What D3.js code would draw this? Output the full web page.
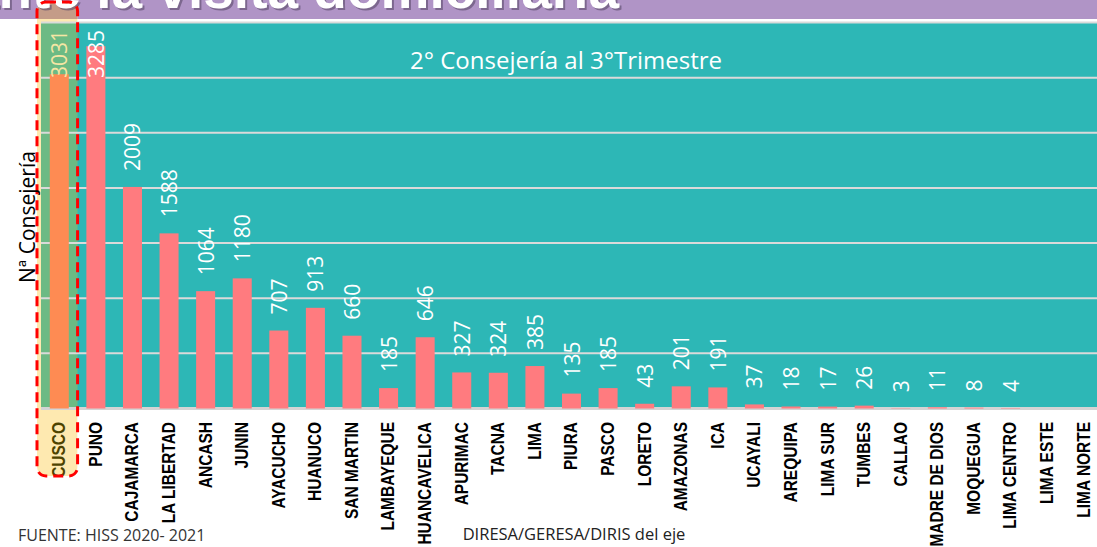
<!DOCTYPE html>
<html>
<head>
<meta charset="utf-8">
<script src="https://cdn.jsdelivr.net/npm/d3@7"></script>
<style>
  body { margin: 0; background: #fff; overflow: hidden; }
  svg { display: block; }
</style>
</head>
<body>
<div id="chart"></div>
<script>
var categories = ["CUSCO", "PUNO", "CAJAMARCA", "LA LIBERTAD", "ANCASH", "JUNIN", "AYACUCHO",
                  "HUANUCO", "SAN MARTIN", "LAMBAYEQUE", "HUANCAVELICA", "APURIMAC", "TACNA",
                  "LIMA", "PIURA", "PASCO", "LORETO", "AMAZONAS", "ICA", "UCAYALI", "AREQUIPA",
                  "LIMA SUR", "TUMBES", "CALLAO", "MADRE DE DIOS", "MOQUEGUA", "LIMA CENTRO",
                  "LIMA ESTE", "LIMA NORTE"];
var values = [3031, 3285, 2009, 1588, 1064, 1180, 707, 913, 660, 185, 646, 327, 324, 385,
              135, 185, 43, 201, 191, 37, 18, 17, 26, 3, 11, 8, 4, null, null];
var yTicks = [0, 500, 1000, 1500, 2000, 2500, 3000, 3500];
var highlighted = "CUSCO";

var headerTitle = "Consejería durante la visita domiciliaria";
var chartTitle = "2° Consejería al 3°Trimestre";
var yTitle = "Nª Consejería";
var xTitle = "DIRESA/GERESA/DIRIS del eje";
var source = "FUENTE: HISS  2020- 2021";

var W = 1097, H = 547;
var plot = {left: 41, right: 1102, top: 22.5, bottom: 408.5};

var svg = d3.select("#chart")
            .append("svg")
            .attr("width", W)
            .attr("height", H);

var x = d3.scaleBand()
          .domain(categories)
          .range([plot.left, plot.right])
          .paddingInner(0.48)
          .paddingOuter(0.24);

var y = d3.scaleLinear()
          .domain([0, 3500])
          .range([plot.bottom, plot.top]);

// purple header band with the slide title
svg.append("rect")
   .attr("x", 0).attr("y", 0)
   .attr("width", W).attr("height", 19)
   .attr("fill", "#b094c6");

// highlight box behind the selected column
var hx0 = x(highlighted) - (x.step() - x.bandwidth()) / 2 - 4,
    hx1 = x(highlighted) + x.bandwidth() + (x.step() - x.bandwidth()) / 2;

svg.append("clipPath")
   .attr("id", "hl-clip")
   .append("rect")
   .attr("x", hx0).attr("y", 2)
   .attr("width", hx1 - hx0).attr("height", 474)
   .attr("rx", 9);

var hl = svg.append("g").attr("clip-path", "url(#hl-clip)");
hl.append("rect")
  .attr("x", hx0).attr("y", 0)
  .attr("width", hx1 - hx0).attr("height", H)
  .attr("fill", "#fee9b0");
hl.append("rect")
  .attr("x", hx0).attr("y", 0)
  .attr("width", hx1 - hx0).attr("height", 19)
  .attr("fill", "#c49c88");

var titleG = svg.append("g")
   .style("font-family", "'Liberation Sans', Arial, sans-serif")
   .style("font-weight", "bold")
   .style("font-size", "55px");
titleG.append("text")
   .attr("x", 621).attr("y", 10)
   .attr("text-anchor", "end")
   .attr("fill", "#5a4a6a")
   .attr("opacity", 0.6)
   .text(headerTitle);
titleG.append("text")
   .attr("x", 619).attr("y", 8)
   .attr("text-anchor", "end")
   .attr("fill", "#ffffff")
   .text(headerTitle);

// plot area
svg.append("rect")
   .attr("x", plot.left).attr("y", plot.top)
   .attr("width", plot.right - plot.left).attr("height", plot.bottom - plot.top)
   .attr("fill", "#2db7b6");

svg.append("rect")
   .attr("x", plot.left).attr("y", plot.top)
   .attr("width", hx1 - plot.left).attr("height", plot.bottom - plot.top)
   .attr("fill", "#6cba84");

// gridlines
svg.append("g")
   .selectAll("line")
   .data(yTicks)
   .enter()
   .append("line")
   .attr("x1", plot.left)
   .attr("x2", plot.right)
   .attr("y1", d => y(d))
   .attr("y2", d => y(d))
   .attr("stroke", d => d === 0 ? "#d4d4d4" : "#dadada")
   .attr("stroke-width", d => d === 0 ? 3 : 2);

// bars
var data = categories.map((c, i) => ({cat: c, value: values[i]}))
                     .filter(d => d.value !== null);

svg.append("g")
   .selectAll("rect")
   .data(data)
   .enter()
   .append("rect")
   .attr("x", d => x(d.cat))
   .attr("y", d => y(d.value))
   .attr("width", x.bandwidth())
   .attr("height", d => y(0) - y(d.value))
   .attr("fill", d => d.cat === highlighted ? "#fe8b53" : "#ff7b7f");

// value labels, kept inside the plot top like Excel does
var labels = svg.append("g")
   .style("font-family", "'Open Sans', sans-serif")
   .style("font-size", "21px")
   .selectAll("text")
   .data(data)
   .enter()
   .append("text")
   .attr("dominant-baseline", "central")
   .attr("fill", d => d.cat === highlighted ? "#f6e6a4" : "#ffffff")
   .text(d => d.value);

labels.attr("transform", function(d) {
   var len = this.getComputedTextLength();
   var y0 = Math.max(y(d.value) - 16, 30 + len);
   return "translate(" + (x(d.cat) + x.bandwidth() / 2) + "," + y0 + ") rotate(-90)";
});

// category labels (condensed bold, like Calibri)
svg.append("g")
   .style("font-family", "'Liberation Sans', Arial, sans-serif")
   .style("font-weight", "bold")
   .style("font-size", "18px")
   .selectAll("text")
   .data(categories)
   .enter()
   .append("text")
   .attr("transform", d => "translate(" + (x(d) + x.bandwidth() / 2) + ",422) rotate(-90) scale(0.86,1)")
   .attr("text-anchor", "end")
   .attr("dominant-baseline", "central")
   .attr("fill", d => d === highlighted ? "#4e4300" : "#000000")
   .text(d => d);

// dashed red frame around the highlighted column
svg.append("rect")
   .attr("x", hx0).attr("y", 2)
   .attr("width", hx1 - hx0).attr("height", 474)
   .attr("rx", 9)
   .attr("fill", "none")
   .attr("stroke", "#ff0000")
   .attr("stroke-width", 3)
   .attr("stroke-dasharray", "10,6");

// chart title
svg.append("text")
   .attr("x", 566).attr("y", 69)
   .attr("text-anchor", "middle")
   .style("font-family", "'Open Sans', sans-serif")
   .style("font-size", "24px")
   .attr("fill", "#ffffff")
   .text(chartTitle);

// y axis title
svg.append("text")
   .attr("transform", "translate(27,217) rotate(-90)")
   .attr("text-anchor", "middle")
   .attr("dominant-baseline", "central")
   .style("font-family", "'Open Sans', sans-serif")
   .style("font-size", "21px")
   .attr("fill", "#000000")
   .text(yTitle);

// x axis title
svg.append("text")
   .attr("x", 574).attr("y", 540)
   .attr("text-anchor", "middle")
   .style("font-family", "'Open Sans', sans-serif")
   .style("font-size", "16.5px")
   .attr("fill", "#222222")
   .text(xTitle);

// source
svg.append("text")
   .attr("x", 18).attr("y", 541)
   .style("font-family", "'Open Sans', sans-serif")
   .style("font-size", "16px")
   .attr("fill", "#333333")
   .text(source);
</script>
</body>
</html>
